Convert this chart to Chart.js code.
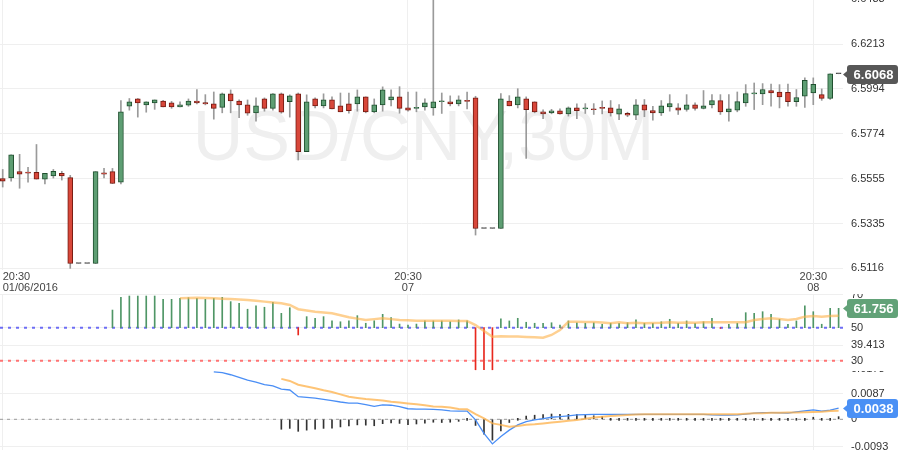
<!DOCTYPE html>
<html><head><meta charset="utf-8">
<script src="https://cdn.jsdelivr.net/npm/chart.js@4.4.1/dist/chart.umd.min.js"></script>
<style>
html,body{margin:0;padding:0;background:#fff;}
#wrap{position:relative;width:900px;height:450px;overflow:hidden;background:#fff;}
canvas{position:absolute;left:0;}
</style></head><body>
<div id="wrap">
<canvas id="main" width="900" height="294" style="top:0px"></canvas>
<canvas id="rsi" width="900" height="77" style="top:294px"></canvas>
<canvas id="macd" width="900" height="79" style="top:371px"></canvas>
</div>
<script>
// ---------- DATA (USD/CNY, 30M candles) ----------
const watermarkText = 'USD/CNY,30M';
const timeTickIndex = [0, 48, 96, 144];
const timeLabels = [['20:30', '01/06/2016'], ['20:30', '07'], ['20:30', '08'], ''];

const opens = [6.5555,6.5558,6.5589,6.5586,6.5586,6.5553,6.5568,6.5581,6.5560,6.5140,
6.5140,6.5140,6.5584,6.5589,6.5538,6.5909,6.5945,6.5916,6.5926,6.5935,
6.5926,6.5906,6.5914,6.5935,6.5927,6.5921,6.5904,6.5970,6.5935,6.5916,
6.5877,6.5945,6.5899,6.5970,6.5931,6.5970,6.5687,6.5945,6.5911,6.5940,
6.5911,6.5921,6.5921,6.5955,6.5882,6.5916,6.5940,6.5955,6.5901,6.5899,
6.5906,6.5901,6.5931,6.5931,6.5921,6.5937,6.5950,6.5311,6.5311,6.5311,
6.5935,6.5916,6.5945,6.5931,6.5882,6.5877,6.5887,6.5872,6.5901,6.5896,
6.5896,6.5903,6.5901,6.5870,6.5874,6.5865,6.5916,6.5888,6.5877,6.5906,
6.5901,6.5894,6.5916,6.5899,6.5916,6.5937,6.5882,6.5890,6.5926,6.5970,
6.5970,6.5986,6.5979,6.5977,6.5931,6.5958,6.5974,6.5966,6.5947,6.6068];
const closes = [6.5543,6.5672,6.5577,6.5582,6.5553,6.5581,6.5591,6.5568,6.5140,6.5140,
6.5140,6.5589,6.5577,6.5531,6.5882,6.5931,6.5926,6.5931,6.5940,6.5906,
6.5906,6.5916,6.5935,6.5926,6.5921,6.5899,6.5970,6.5935,6.5916,6.5875,
6.5911,6.5899,6.5970,6.5880,6.5960,6.5687,6.5931,6.5911,6.5940,6.5896,
6.5882,6.5887,6.5955,6.5882,6.5916,6.5989,6.5955,6.5899,6.5890,6.5903,
6.5926,6.5931,6.5932,6.5921,6.5940,6.5933,6.5311,6.5311,6.5311,6.5945,
6.5911,6.5955,6.5892,6.5882,6.5872,6.5887,6.5872,6.5901,6.5887,6.5898,
6.5892,6.5899,6.5877,6.5896,6.5865,6.5916,6.5890,6.5877,6.5911,6.5922,
6.5890,6.5916,6.5899,6.5911,6.5937,6.5882,6.5896,6.5932,6.5971,6.5971,
6.5991,6.5974,6.5955,6.5932,6.5952,6.6036,6.6016,6.5948,6.6068,6.6068];
const highs = [6.5600,6.5672,6.5674,6.5610,6.5722,6.5581,6.5600,6.5591,6.5571,6.5140,
6.5140,6.5589,6.5605,6.5605,6.5937,6.5947,6.5947,6.5931,6.5940,6.5938,
6.5933,6.5931,6.5945,6.5991,6.5966,6.5979,6.5974,6.5989,6.5940,6.5940,
6.5950,6.5950,6.5971,6.5974,6.5965,6.5974,6.5965,6.5950,6.5970,6.5955,
6.5974,6.5974,6.5989,6.5955,6.5945,6.6004,6.5989,6.6005,6.5979,6.5979,
6.5945,6.6520,6.5974,6.5960,6.5960,6.5979,6.5958,6.5311,6.5311,6.5971,
6.5961,6.5995,6.5955,6.5931,6.5892,6.5894,6.5896,6.5906,6.5921,6.5922,
6.5922,6.5935,6.5937,6.5917,6.5880,6.5942,6.5942,6.5909,6.5937,6.5966,
6.5922,6.5966,6.5926,6.5986,6.5966,6.5966,6.5966,6.5979,6.6015,6.6023,
6.6020,6.6018,6.6015,6.6018,6.5991,6.6048,6.6048,6.5994,6.6068,6.6068];
const lows = [6.5514,6.5543,6.5508,6.5538,6.5553,6.5529,6.5558,6.5548,6.5116,6.5140,
6.5140,6.5140,6.5558,6.5531,6.5529,6.5890,6.5856,6.5880,6.5894,6.5906,
6.5899,6.5906,6.5909,6.5921,6.5916,6.5846,6.5877,6.5877,6.5853,6.5865,
6.5836,6.5885,6.5890,6.5875,6.5856,6.5646,6.5687,6.5901,6.5901,6.5896,
6.5882,6.5875,6.5885,6.5877,6.5877,6.5885,6.5911,6.5875,6.5885,6.5882,
6.5890,6.5865,6.5874,6.5911,6.5911,6.5896,6.5279,6.5311,6.5311,6.5311,
6.5911,6.5901,6.5654,6.5877,6.5848,6.5872,6.5870,6.5861,6.5848,6.5874,
6.5869,6.5872,6.5861,6.5844,6.5858,6.5844,6.5858,6.5841,6.5864,6.5885,
6.5869,6.5885,6.5890,6.5896,6.5901,6.5869,6.5836,6.5882,6.5909,6.5893,
6.5917,6.5909,6.5901,6.5909,6.5909,6.5904,6.5917,6.5938,6.5942,6.6068];

const priceTickLabels = ['6.5116','6.5335','6.5555','6.5774','6.5994','6.6213','6.6433'];

const rsiValues = [null,null,null,null,null,null,null,null,null,null,
null,null,null,60.7,68.4,69.2,69.2,69.2,69.2,67.2,
67.2,67.8,68.2,67.8,67.2,67.8,68.4,65.8,64.8,61.2,
63.2,62.4,65.4,58.7,62.1,45.6,56.7,55.7,56.7,54.2,
53.6,54.1,57.3,52.7,54.2,58.1,56.1,52.2,51.6,52.2,
54.1,54.1,54.1,53.6,54.7,54.2,24.5,24.5,24.5,55.3,
54.1,55.7,53.3,52.7,52.7,53.0,51.6,54.1,53.0,52.7,
53.0,52.1,52.7,52.7,53.0,54.7,52.7,52.7,53.6,55.1,
52.7,54.1,52.7,53.6,55.7,49.6,52.1,52.7,59.1,58.7,
59.7,58.1,55.1,52.1,54.1,63.2,59.7,52.1,61.8,61.756];
const rsiAverage = [null,null,null,null,null,null,null,null,null,null,
null,null,null,null,null,null,null,null,null,null,
null,67.8,68.0,68.2,68.0,67.8,67.6,67.4,67.1,66.8,
66.3,65.8,65.3,64.8,63.8,61.2,60.4,59.7,59.2,58.7,
57.5,56.3,55.5,54.7,55.2,55.7,55.2,54.7,54.5,54.2,
54.2,54.2,54.2,54.2,54.1,54.1,51.6,48.0,44.5,44.8,
44.7,44.6,44.4,44.2,43.9,45.6,48.6,53.6,53.6,53.5,
53.5,53.2,52.7,53.3,52.7,53.0,52.7,52.9,53.0,53.3,
53.0,53.2,53.0,53.3,53.3,53.3,53.3,53.3,53.3,54.7,
55.3,55.7,55.3,54.7,55.3,56.7,57.1,56.7,57.1,57.3];
const rsiLevels = [50, 30];
const rsiTickValues = [30, 39.413, 50, 70];
const rsiTickLabels = ['30', '39.413', '50', '70'];

const macdLine = [null,null,null,null,null,null,null,null,null,null,
null,null,null,null,null,null,null,null,null,null,
null,null,null,null,null,0.0162,0.0159,0.0152,0.0143,0.0134,
0.0127,0.0118,0.0114,0.0103,0.0100,0.0077,0.0075,0.0072,0.0068,0.0064,
0.0059,0.0055,0.0055,0.0050,0.0044,0.0049,0.0048,0.0043,0.0036,0.0035,
0.0035,0.0034,0.0032,0.0029,0.0028,0.0028,-0.0002,-0.0048,-0.0084,-0.0059,
-0.0037,-0.0019,-0.0008,-0.0002,0.0002,0.0007,0.0009,0.0012,0.0015,0.0016,
0.0017,0.0017,0.0017,0.0017,0.0017,0.0017,0.0017,0.0017,0.0017,0.0017,
0.0017,0.0017,0.0017,0.0017,0.0015,0.0014,0.0014,0.0015,0.0018,0.0021,
0.0023,0.0023,0.0022,0.0021,0.0025,0.0029,0.0032,0.0028,0.0031,0.0038];
const macdSignal = [null,null,null,null,null,null,null,null,null,null,
null,null,null,null,null,null,null,null,null,null,
null,null,null,null,null,null,null,null,null,null,
null,null,null,0.0138,0.0131,0.0118,0.0112,0.0106,0.0099,0.0093,
0.0085,0.0077,0.0073,0.0069,0.0067,0.0064,0.0060,0.0057,0.0054,0.0051,
0.0048,0.0044,0.0043,0.0040,0.0035,0.0034,0.0018,0.0003,-0.0014,-0.0019,
-0.0025,-0.0023,-0.0019,-0.0017,-0.0014,-0.0011,-0.0008,-0.0005,-0.0002,0.0002,
0.0006,0.0009,0.0011,0.0013,0.0015,0.0016,0.0017,0.0017,0.0017,0.0017,
0.0017,0.0017,0.0017,0.0017,0.0017,0.0017,0.0017,0.0017,0.0019,0.0021,
0.0021,0.0022,0.0022,0.0023,0.0023,0.0024,0.0025,0.0026,0.0028,0.0029];
const macdHist = [null,null,null,null,null,null,null,null,null,null,
null,null,null,null,null,null,null,null,null,null,
null,null,null,null,null,null,null,null,null,null,
null,null,null,-0.0034,-0.0031,-0.0041,-0.0037,-0.0034,-0.0031,-0.0030,
-0.0026,-0.0023,-0.0019,-0.0020,-0.0022,-0.0015,-0.0012,-0.0014,-0.0018,-0.0016,
-0.0013,-0.0010,-0.0011,-0.0010,-0.0007,-0.0006,-0.0021,-0.0051,-0.0071,-0.0040,
-0.0011,0.0004,0.0011,0.0014,0.0016,0.0018,0.0017,0.0017,0.0017,0.0014,
0.0012,0.0009,0.0006,0.0004,0.0002,0.0001,0.0000,0.0001,0.0001,0.0001,
-0.0001,0.0001,0.0000,0.0000,-0.0001,-0.0003,-0.0003,-0.0002,-0.0001,0.0000,
0.0002,0.0001,-0.0001,-0.0002,0.0002,0.0005,0.0007,0.0002,0.0003,0.0009];
const macdTickValues = [-0.0093, 0, 0.0087, 0.0173];
const macdTickLabels = ['-0.0093', '0', '0.0087', '0.0173'];

// ---------- RENDERING ----------
const FONT = "'Liberation Sans', Arial, sans-serif";
Chart.defaults.font.family = FONT;
const X_MIN = -0.32, X_MAX = 99.52;
const idx = opens.map((_, i) => i);
const GRID = '#efefef';

function xAxis(showLabels) {
  return {
    type: 'linear', min: X_MIN, max: X_MAX, offset: false,
    grid: { color: GRID, drawTicks: false, offset: false },
    border: { display: false },
    afterBuildTicks: s => { s.ticks = timeTickIndex.map(v => ({ value: v })); },
    afterFit: s => { s.paddingLeft = 0; s.paddingRight = 0; },
    ticks: {
      display: showLabels, autoSkip: false, maxRotation: 0, minRotation: 0,
      align: 'inner', padding: 1, color: '#444',
      font: { family: FONT, size: 11, lineHeight: 1 },
      callback: (v, i) => timeLabels[i]
    }
  };
}
function yAxis(min, max, vals, labels) {
  return {
    type: 'linear', position: 'right', min, max, beginAtZero: false,
    grid: { color: GRID, drawTicks: false },
    border: { display: false },
    afterBuildTicks: s => { s.ticks = vals.map(v => ({ value: v })); },
    afterFit: s => { s.width = 57; s.paddingTop = 0; s.paddingBottom = 0; },
    ticks: { autoSkip: false, padding: 8, color: '#333', font: { family: FONT, size: 11 },
      callback: (v, i) => labels[i] }
  };
}
const badgePlugin = {
  id: 'badge',
  afterDraw(chart, args, o) {
    if (!o || o.value == null) return;
    const ctx = chart.ctx;
    const y = Math.round(chart.scales.y.getPixelForValue(o.value)) + 0.5;
    const x = chart.chartArea.right + 4, w = 51, h = 19;
    ctx.save();
    ctx.fillStyle = o.color;
    ctx.beginPath();
    ctx.moveTo(x - 4, y);
    ctx.lineTo(x + 2, y - 5);
    ctx.lineTo(x + 2, y + 5);
    ctx.closePath();
    ctx.fill();
    ctx.beginPath();
    ctx.roundRect(x, y - h / 2, w, h, 3);
    ctx.fill();
    ctx.fillStyle = '#fff';
    ctx.font = 'bold 13px ' + FONT;
    ctx.textAlign = 'center';
    ctx.textBaseline = 'middle';
    ctx.fillText(o.text, x + w / 2 + 1, y + 0.5);
    ctx.restore();
  }
};
const watermarkPlugin = {
  id: 'wm',
  beforeDatasetsDraw(chart) {
    const { ctx, chartArea: a } = chart;
    ctx.save();
    ctx.font = '70px ' + FONT;
    ctx.fillStyle = '#efefef';
    ctx.textAlign = 'center';
    ctx.textBaseline = 'alphabetic';
    ctx.fillText(watermarkText, (a.left + a.right) / 2 + 2, (a.top + a.bottom) / 2 + 25);
    ctx.restore();
  }
};
const baseOpts = {
  responsive: false, maintainAspectRatio: false, animation: false, devicePixelRatio: 1,
  events: [], layout: { padding: 0 },
  plugins: { legend: { display: false }, tooltip: { enabled: false } }
};
const dir = i => closes[i] > opens[i] ? 2 : (closes[i] < opens[i] ? 0 : 1);
const bodyFill = ['#d8473a', '#4a4a4a', '#5e9e73'];
const bodyLine = ['#741b12', '#4a4a4a', '#1f4f2e'];

// main price chart
new Chart(document.getElementById('main'), {
  type: 'bar',
  data: { datasets: [
    { label: 'wick', order: 2, grouped: false, barThickness: 1, backgroundColor: '#9a9a9a', borderWidth: 0,
      data: idx.map(i => ({ x: i, y: [lows[i], highs[i]] })) },
    { label: 'body', order: 1, grouped: false, barThickness: 5, borderWidth: 1, borderSkipped: false, minBarLength: 1,
      backgroundColor: c => bodyFill[dir(c.dataIndex)], borderColor: c => bodyLine[dir(c.dataIndex)],
      data: idx.map(i => ({ x: i, y: [opens[i], closes[i]] })) }
  ] },
  options: Object.assign({}, baseOpts, {
    scales: { x: xAxis(true), y: yAxis(6.5108, 6.6429, priceTickLabels.map(parseFloat), priceTickLabels) },
    plugins: Object.assign({}, baseOpts.plugins, { badge: { value: closes[closes.length - 1], text: closes[closes.length - 1].toFixed(4), color: '#575757' } })
  }),
  plugins: [watermarkPlugin, badgePlugin]
});

// RSI panel
const rsiIdx = idx.filter(i => rsiValues[i] != null);
new Chart(document.getElementById('rsi'), {
  type: 'bar',
  data: { datasets: [
    { type: 'line', order: 4, data: [{ x: X_MIN, y: rsiLevels[0] }, { x: X_MAX, y: rsiLevels[0] }],
      borderColor: '#6d6df5', borderWidth: 2, borderDash: [3, 5], pointRadius: 0 },
    { type: 'line', order: 4, data: [{ x: X_MIN, y: rsiLevels[1] }, { x: X_MAX, y: rsiLevels[1] }],
      borderColor: '#ff7373', borderWidth: 2, borderDash: [3, 5], pointRadius: 0 },
    { order: 2, grouped: false, barThickness: 1, borderWidth: 0,
      backgroundColor: c => (c.raw && c.raw.y[1] < rsiLevels[0]) ? '#e8281e' : '#4f9666',
      data: rsiIdx.map(i => ({ x: i, y: [rsiLevels[0], rsiValues[i]] })) },
    { type: 'line', order: 1, data: idx.filter(i => rsiAverage[i] != null).map(i => ({ x: i, y: rsiAverage[i] })),
      borderColor: 'rgba(253,176,72,0.6)', borderWidth: 2.5, pointRadius: 0, tension: 0 }
  ] },
  options: Object.assign({}, baseOpts, {
    scales: { x: xAxis(false), y: yAxis(23.758, 70.424, rsiTickValues, rsiTickLabels) },
    plugins: Object.assign({}, baseOpts.plugins, { badge: { value: rsiValues[rsiValues.length - 1], text: String(rsiValues[rsiValues.length - 1]), color: '#62a278' } })
  }),
  plugins: [badgePlugin]
});

// MACD panel
new Chart(document.getElementById('macd'), {
  type: 'bar',
  data: { datasets: [
    { type: 'line', order: 5, data: [{ x: X_MIN, y: 0 }, { x: X_MAX, y: 0 }],
      borderColor: '#9a9a9a', borderWidth: 1, borderDash: [3, 4], pointRadius: 0 },
    { order: 3, grouped: false, barThickness: 1, borderWidth: 0, minBarLength: 2, backgroundColor: '#333',
      data: idx.filter(i => macdHist[i] != null).map(i => ({ x: i, y: [0, macdHist[i]] })) },
    { type: 'line', order: 2, data: idx.filter(i => macdLine[i] != null).map(i => ({ x: i, y: macdLine[i] })),
      borderColor: '#4a8ef5', borderWidth: 1.3, pointRadius: 0, tension: 0 },
    { type: 'line', order: 1, data: idx.filter(i => macdSignal[i] != null).map(i => ({ x: i, y: macdSignal[i] })),
      borderColor: 'rgba(253,176,72,0.75)', borderWidth: 2, pointRadius: 0, tension: 0 }
  ] },
  options: Object.assign({}, baseOpts, {
    scales: { x: xAxis(false), y: yAxis(-0.010474, 0.016479, macdTickValues, macdTickLabels) },
    plugins: Object.assign({}, baseOpts.plugins, { badge: { value: macdLine[macdLine.length - 1], text: macdLine[macdLine.length - 1].toFixed(4), color: '#4a90f5' } })
  }),
  plugins: [badgePlugin]
});
</script>
</body></html>
